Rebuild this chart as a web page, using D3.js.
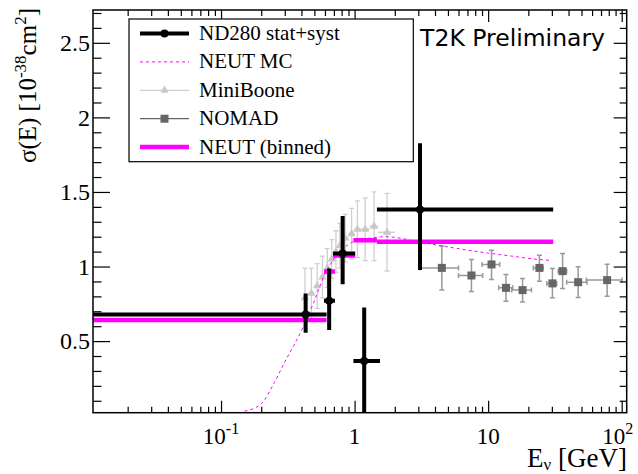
<!DOCTYPE html>
<html>
<head>
<meta charset="utf-8">
<script src="https://cdn.jsdelivr.net/npm/d3@7"></script>
<style>
body{margin:0;background:#fff}
svg{display:block}
text{font-family:"Liberation Serif","Times New Roman",serif;fill:#000}
</style>
</head>
<body>
<div id="chart"></div>
<script>
// ND280 stat+syst (bins, points, errors)
var ndE = [0.43, 0.645, 0.814, 1.18, 3.09]
var ndLo = [0.001, 0.59, 0.69, 0.98, 1.47]
var ndHi = [0.617, 0.713, 1.01, 1.55, 30.7]
var ndSigma = [0.679, 0.77, 1.088, 0.366, 1.383]
var ndErrDn = [0.123, 0.196, 0.206, 0.36, 0.407]
var ndErrUp = [0.141, 0.217, 0.25, 0.36, 0.443]

// NEUT (binned)
var binLo = [0.001, 0.59, 0.69, 0.98, 1.47]
var binHi = [0.617, 0.713, 1.01, 1.47, 30.7]
var binSigma = [0.641, 0.967, 1.074, 1.177, 1.166]

// NEUT MC curve
var mcE = [0.15, 0.2, 0.25, 0.3, 0.35, 0.4, 0.5, 0.6, 0.7, 0.8, 1.0, 1.3, 1.7, 2.2, 3, 4.4, 7, 10, 15, 20, 30]
var mcSigma = [0.03, 0.08, 0.22, 0.36, 0.47, 0.57, 0.77, 0.95, 1.05, 1.11, 1.17, 1.19, 1.2, 1.19, 1.165, 1.14, 1.11, 1.09, 1.07, 1.055, 1.04]

// MiniBooNE
var mbE = [0.425, 0.475, 0.525, 0.575, 0.625, 0.675, 0.725, 0.775, 0.85, 0.95, 1.05, 1.2, 1.4, 1.75]
var mbLo = [0.4, 0.45, 0.5, 0.55, 0.6, 0.65, 0.7, 0.75, 0.8, 0.9, 1.0, 1.1, 1.3, 1.5]
var mbHi = [0.45, 0.5, 0.55, 0.6, 0.65, 0.7, 0.75, 0.8, 0.9, 1.0, 1.1, 1.3, 1.5, 2.0]
var mbSigma = [0.79, 0.82, 0.87, 0.93, 0.99, 1.05, 1.1, 1.14, 1.19, 1.22, 1.25, 1.25, 1.27, 1.23]
var mbErr = [0.2, 0.17, 0.15, 0.14, 0.13, 0.13, 0.14, 0.15, 0.16, 0.17, 0.19, 0.21, 0.23, 0.26]

// NOMAD
var nmE = [4.5, 7.5, 10.6, 13.6, 18.1, 24.2, 30.3, 36.1, 47.2, 77.8]
var nmLo = [3.09, 6.0, 9.0, 12.0, 15.0, 21.8, 27.5, 33.5, 38.7, 54.4]
var nmHi = [6.0, 9.1, 12.2, 15.3, 21.1, 25.8, 32.6, 38.7, 55.0, 100.7]
var nmSigma = [0.991, 0.94, 1.014, 0.857, 0.842, 0.991, 0.887, 0.969, 0.895, 0.909]
var nmErrUp = [0.146, 0.108, 0.096, 0.09, 0.078, 0.085, 0.1, 0.119, 0.103, 0.107]
var nmErrDn = [0.149, 0.107, 0.101, 0.089, 0.079, 0.089, 0.097, 0.116, 0.102, 0.109]

// axes
var xMajor = [0.1, 1, 10, 100]
var xLabels = [['10', '-1'], ['1', ''], ['10', ''], ['10', '2']]
var yMajor = [0.5, 1, 1.5, 2, 2.5]
var yLabels = ['0.5', '1', '1.5', '2', '2.5']

var legendNames = ['ND280 stat+syst', 'NEUT MC', 'MiniBoone', 'NOMAD', 'NEUT (binned)']

var magenta = '#ff00ff'

// small attr-object helper
d3.selection.prototype.at = function(o){
  for (var k in o) this.attr(k, o[k])
  return this
}

var totalW = 638, totalH = 474
var margin = {left: 93, right: 11.3, top: 10, bottom: 61.3}
var width = totalW - margin.left - margin.right
var height = totalH - margin.top - margin.bottom

var svg = d3.select('#chart').append('svg')
  .attr('width', totalW).attr('height', totalH)

var g = svg.append('g').attr('transform', 'translate(' + margin.left + ',' + margin.top + ')')

var x = d3.scaleLog().domain([0.011, 109]).range([0, width])
var y = d3.scaleLinear().domain([0.02, 2.72]).range([height, 0])

g.append('clipPath').attr('id', 'clip')
  .append('rect').attr('width', width).attr('height', height)

var plot = g.append('g').attr('clip-path', 'url(#clip)')

// minor tick positions
var xMinor = []
;[0.01, 0.1, 1, 10].forEach(function(d){
  for (var i = 2; i <= 9; i++){
    var v = d * i
    if (v > x.domain()[0] && v < x.domain()[1]) xMinor.push(v)
  }
})
var yMinor = d3.range(1, 28).map(function(i){ return i / 10 })
  .filter(function(v){ return Math.abs(v * 2 - Math.round(v * 2)) > 1e-6 })

function tickAxis(axis, tr){
  var a = g.append('g').attr('transform', tr || null).call(axis)
  a.select('.domain').remove()
  a.selectAll('line').attr('stroke', '#000').attr('stroke-width', 1.2)
  return a
}

// x ticks bottom & top
tickAxis(d3.axisBottom(x).tickValues(xMajor).tickSize(-12).tickFormat(''), 'translate(0,' + height + ')')
tickAxis(d3.axisBottom(x).tickValues(xMinor).tickSize(-6).tickFormat(''), 'translate(0,' + height + ')')
tickAxis(d3.axisTop(x).tickValues(xMajor).tickSize(-12).tickFormat(''))
tickAxis(d3.axisTop(x).tickValues(xMinor).tickSize(-6).tickFormat(''))

// y ticks left & right
var yl = tickAxis(d3.axisLeft(y).tickValues(yMajor).tickSize(-17).tickPadding(3)
  .tickFormat(function(d, i){ return yLabels[i] }))
yl.selectAll('text').attr('font-size', 24).attr('font-family', '"Liberation Serif", serif').attr('fill', '#000')
tickAxis(d3.axisLeft(y).tickValues(yMinor).tickSize(-8.5).tickFormat(''))
tickAxis(d3.axisRight(y).tickValues(yMajor).tickSize(-13).tickFormat(''), 'translate(' + width + ',0)')
tickAxis(d3.axisRight(y).tickValues(yMinor).tickSize(-7).tickFormat(''), 'translate(' + width + ',0)')

// x labels with exponents
xMajor.forEach(function(d, i){
  var t = g.append('text')
    .attr('x', x(d) - (i == 3 ? 4 : 0)).attr('y', height + 31)
    .attr('text-anchor', 'middle').attr('font-size', 23)
  t.append('tspan').text(xLabels[i][0])
  if (xLabels[i][1]) t.append('tspan').attr('dy', -10).attr('font-size', 16).text(xLabels[i][1])
})

// MiniBooNE
var mb = plot.append('g')
mbE.forEach(function(d, i){
  var cx = x(d), cy = y(mbSigma[i])
  var top = y(mbSigma[i] + mbErr[i]), bot = y(mbSigma[i] - mbErr[i])
  mb.append('line').at({x1: cx, x2: cx, y1: top, y2: bot})
  mb.append('line').at({x1: cx - 2.5, x2: cx + 2.5, y1: top, y2: top})
  mb.append('line').at({x1: cx - 2.5, x2: cx + 2.5, y1: bot, y2: bot})
  mb.append('line').at({x1: x(mbLo[i]), x2: x(mbHi[i]), y1: cy, y2: cy})
  mb.append('path').attr('d', d3.symbol(d3.symbolTriangle, 30)())
    .attr('transform', 'translate(' + cx + ',' + cy + ')').attr('fill', '#c8c8c8')
})
mb.selectAll('line').attr('stroke', '#cfcfcf').attr('stroke-width', 1.3)

// NOMAD
var nm = plot.append('g')
nmE.forEach(function(d, i){
  var cx = x(d), cy = y(nmSigma[i])
  var top = y(nmSigma[i] + nmErrUp[i]), bot = y(nmSigma[i] - nmErrDn[i])
  var l = x(nmLo[i]), r = x(nmHi[i])
  nm.append('line').at({x1: cx, x2: cx, y1: top, y2: bot})
  nm.append('line').at({x1: cx - 2.5, x2: cx + 2.5, y1: top, y2: top})
  nm.append('line').at({x1: cx - 2.5, x2: cx + 2.5, y1: bot, y2: bot})
  nm.append('line').at({x1: l, x2: r, y1: cy, y2: cy})
  nm.append('line').at({x1: l, x2: l, y1: cy - 2.5, y2: cy + 2.5})
  nm.append('line').at({x1: r, x2: r, y1: cy - 2.5, y2: cy + 2.5})
  nm.append('rect').at({x: cx - 4, y: cy - 4, width: 8, height: 8, fill: '#666'})
})
nm.selectAll('line').attr('stroke', '#999').attr('stroke-width', 1.5)

// NEUT MC
var mcLine = d3.line().x(function(d){ return x(d[0]) }).y(function(d){ return y(d[1]) })
  .curve(d3.curveMonotoneX)
plot.append('path').attr('d', mcLine(d3.zip(mcE, mcSigma)))
  .attr('fill', 'none').attr('stroke', magenta).attr('stroke-width', 1).attr('stroke-dasharray', '3,3')

// NEUT binned
binSigma.forEach(function(v, i){
  plot.append('line').at({x1: x(binLo[i]), x2: x(binHi[i]), y1: y(v), y2: y(v)})
    .attr('stroke', magenta).attr('stroke-width', 4.5)
})

// ND280
var nd = plot.append('g')
ndE.forEach(function(d, i){
  var cx = x(d), cy = y(ndSigma[i])
  nd.append('line').at({x1: x(ndLo[i]), x2: x(ndHi[i]), y1: cy, y2: cy})
  nd.append('line').at({x1: cx, x2: cx, y1: y(ndSigma[i] + ndErrUp[i]), y2: y(ndSigma[i] - ndErrDn[i])})
  nd.append('circle').at({cx: cx, cy: cy, r: 4, fill: '#000'})
})
nd.selectAll('line').attr('stroke', '#000').attr('stroke-width', 4)

// frame
g.append('rect').at({width: width, height: height, fill: 'none', stroke: '#000', 'stroke-width': 1.5})

// legend
var lg = svg.append('g')
lg.append('rect').at({x: 129, y: 19, width: 284.3, height: 142.7, fill: '#fff', stroke: '#000', 'stroke-width': 1.2})
legendNames.forEach(function(name, i){
  var cy = 33.5 + i * 28.4
  var row = lg.append('g')
  var ln = row.append('line').at({x1: 140, x2: 189, y1: cy, y2: cy})
  if (i == 0){
    ln.attr('stroke', '#000').attr('stroke-width', 4)
    row.append('circle').at({cx: 164.5, cy: cy, r: 4, fill: '#000'})
  } else if (i == 1){
    ln.attr('stroke', magenta).attr('stroke-width', 1).attr('stroke-dasharray', '3,3')
  } else if (i == 2){
    ln.attr('stroke', '#cfcfcf').attr('stroke-width', 1.3)
    row.append('path').attr('d', d3.symbol(d3.symbolTriangle, 30)())
      .attr('transform', 'translate(164.5,' + cy + ')').attr('fill', '#c8c8c8')
  } else if (i == 3){
    ln.attr('stroke', '#666').attr('stroke-width', 1.3)
    row.append('rect').at({x: 160.5, y: cy - 4, width: 8, height: 8, fill: '#666'})
  } else {
    ln.attr('stroke', magenta).attr('stroke-width', 4.5)
  }
  row.append('text').attr('x', 199).attr('y', cy + 6.5).attr('font-size', 21).text(name)
})

// T2K Preliminary
svg.append('text').attr('x', 605).attr('y', 46).attr('text-anchor', 'end')
  .style('font-family', '"DejaVu Sans", sans-serif').attr('font-size', 23.5).text('T2K Preliminary')

// axis titles
var yt = svg.append('text').attr('transform', 'translate(36,8) rotate(-90)')
  .attr('text-anchor', 'end').attr('font-size', 25)
yt.append('tspan').text('σ(E) [10')
yt.append('tspan').attr('dy', -10).attr('font-size', 17).text('-38')
yt.append('tspan').attr('dy', 10).text('cm')
yt.append('tspan').attr('dy', -10).attr('font-size', 17).text('2')
yt.append('tspan').attr('dy', 10).text(']')

var xt = svg.append('text').attr('x', 627).attr('y', 467).attr('text-anchor', 'end').attr('font-size', 27)
xt.append('tspan').text('E')
xt.append('tspan').attr('dy', 3).attr('font-size', 17).text('ν')
xt.append('tspan').attr('dy', -3).text(' [GeV]')
</script>
</body>
</html>
